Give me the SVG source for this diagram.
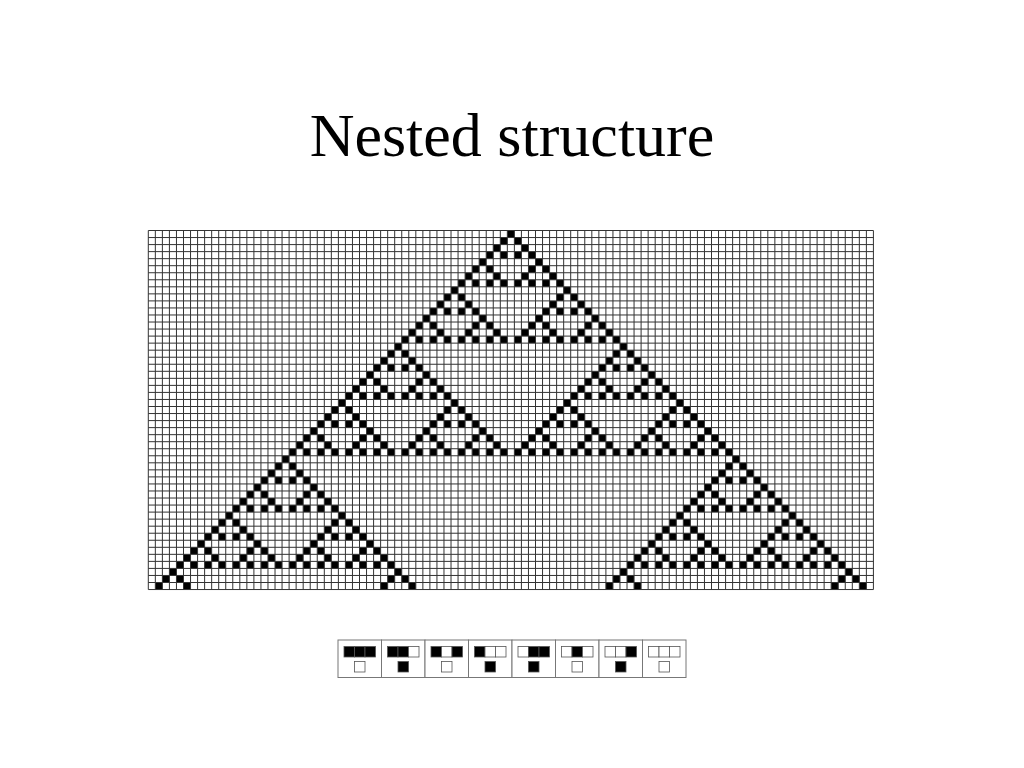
<svg xmlns="http://www.w3.org/2000/svg" xmlns:xlink="http://www.w3.org/1999/xlink" width="1024" height="768" viewBox="0 0 1024 768">
<style>
.title{font-family:"Liberation Serif","Times New Roman",serif;font-size:62px;fill:#000}
.gl{stroke:#333;stroke-width:1;vector-effect:non-scaling-stroke;fill:none}
.rp{fill:#fff;stroke:#777;stroke-width:1}
.on{fill:#000;stroke:#555;stroke-width:0.8}
.off{fill:#fff;stroke:#555;stroke-width:0.8}
</style>
<defs>
<rect id="t0" x="51" y="0" width="1" height="1" fill="#000"/>
<g id="t1"><use href="#t0"/><use href="#t0" transform="translate(-1 1)"/><use href="#t0" transform="translate(1 1)"/></g>
<g id="t2"><use href="#t1"/><use href="#t1" transform="translate(-2 2)"/><use href="#t1" transform="translate(2 2)"/></g>
<g id="t3"><use href="#t2"/><use href="#t2" transform="translate(-4 4)"/><use href="#t2" transform="translate(4 4)"/></g>
<g id="t4"><use href="#t3"/><use href="#t3" transform="translate(-8 8)"/><use href="#t3" transform="translate(8 8)"/></g>
<g id="t5"><use href="#t4"/><use href="#t4" transform="translate(-16 16)"/><use href="#t4" transform="translate(16 16)"/></g>
<g id="p3"><use href="#t1"/><use href="#t0" transform="translate(-2 2)"/><use href="#t0" transform="translate(2 2)"/></g>
<g id="p19"><use href="#t4"/><use href="#p3" transform="translate(-16 16)"/><use href="#p3" transform="translate(16 16)"/></g>
<g id="p51"><use href="#t5"/><use href="#p19" transform="translate(-32 32)"/><use href="#p19" transform="translate(32 32)"/></g>
<line id="v1" x1="0" y1="0" x2="0" y2="51" class="gl"/>
<g id="v2"><use href="#v1"/><use href="#v1" x="1"/></g>
<g id="v4"><use href="#v2"/><use href="#v2" x="2"/></g>
<g id="v8"><use href="#v4"/><use href="#v4" x="4"/></g>
<g id="v16"><use href="#v8"/><use href="#v8" x="8"/></g>
<g id="v32"><use href="#v16"/><use href="#v16" x="16"/></g>
<g id="v64"><use href="#v32"/><use href="#v32" x="32"/></g>
<line id="h1" x1="0" y1="0" x2="103" y2="0" class="gl"/>
<g id="h2"><use href="#h1"/><use href="#h1" y="1"/></g>
<g id="h4"><use href="#h2"/><use href="#h2" y="2"/></g>
<g id="h8"><use href="#h4"/><use href="#h4" y="4"/></g>
<g id="h16"><use href="#h8"/><use href="#h8" y="8"/></g>
<g id="h32"><use href="#h16"/><use href="#h16" y="16"/></g>
</defs>
<rect width="1024" height="768" fill="#fff"/>
<text class="title" x="512" y="156" text-anchor="middle">Nested structure</text>
<g id="automaton" transform="translate(148.3 230.5) scale(7.04)">
<rect x="0" y="0" width="103" height="51" fill="#fff"/>
<use href="#p51"/>
<g id="grid">
<use href="#v64"/><use href="#v32" x="64"/><use href="#v8" x="96"/>
<use href="#h32"/><use href="#h16" y="32"/><use href="#h4" y="48"/>
</g>
</g>
<g id="rules">
<g id="r0"><rect class="rp" x="338" y="640" width="43.5" height="37.5"/><rect class="on" x="344" y="646.5" width="10.5" height="10.5"/><rect class="on" x="354.5" y="646.5" width="10.5" height="10.5"/><rect class="on" x="365" y="646.5" width="10.5" height="10.5"/><rect class="off" x="354.5" y="661.5" width="10.5" height="10.5"/></g>
<g id="r1"><rect class="rp" x="381.5" y="640" width="43.5" height="37.5"/><rect class="on" x="387.5" y="646.5" width="10.5" height="10.5"/><rect class="on" x="398" y="646.5" width="10.5" height="10.5"/><rect class="off" x="408.5" y="646.5" width="10.5" height="10.5"/><rect class="on" x="398" y="661.5" width="10.5" height="10.5"/></g>
<g id="r2"><rect class="rp" x="425" y="640" width="43.5" height="37.5"/><rect class="on" x="431" y="646.5" width="10.5" height="10.5"/><rect class="off" x="441.5" y="646.5" width="10.5" height="10.5"/><rect class="on" x="452" y="646.5" width="10.5" height="10.5"/><rect class="off" x="441.5" y="661.5" width="10.5" height="10.5"/></g>
<g id="r3"><rect class="rp" x="468.5" y="640" width="43.5" height="37.5"/><rect class="on" x="474.5" y="646.5" width="10.5" height="10.5"/><rect class="off" x="485" y="646.5" width="10.5" height="10.5"/><rect class="off" x="495.5" y="646.5" width="10.5" height="10.5"/><rect class="on" x="485" y="661.5" width="10.5" height="10.5"/></g>
<g id="r4"><rect class="rp" x="512" y="640" width="43.5" height="37.5"/><rect class="off" x="518" y="646.5" width="10.5" height="10.5"/><rect class="on" x="528.5" y="646.5" width="10.5" height="10.5"/><rect class="on" x="539" y="646.5" width="10.5" height="10.5"/><rect class="on" x="528.5" y="661.5" width="10.5" height="10.5"/></g>
<g id="r5"><rect class="rp" x="555.5" y="640" width="43.5" height="37.5"/><rect class="off" x="561.5" y="646.5" width="10.5" height="10.5"/><rect class="on" x="572" y="646.5" width="10.5" height="10.5"/><rect class="off" x="582.5" y="646.5" width="10.5" height="10.5"/><rect class="off" x="572" y="661.5" width="10.5" height="10.5"/></g>
<g id="r6"><rect class="rp" x="599" y="640" width="43.5" height="37.5"/><rect class="off" x="605" y="646.5" width="10.5" height="10.5"/><rect class="off" x="615.5" y="646.5" width="10.5" height="10.5"/><rect class="on" x="626" y="646.5" width="10.5" height="10.5"/><rect class="on" x="615.5" y="661.5" width="10.5" height="10.5"/></g>
<g id="r7"><rect class="rp" x="642.5" y="640" width="43.5" height="37.5"/><rect class="off" x="648.5" y="646.5" width="10.5" height="10.5"/><rect class="off" x="659" y="646.5" width="10.5" height="10.5"/><rect class="off" x="669.5" y="646.5" width="10.5" height="10.5"/><rect class="off" x="659" y="661.5" width="10.5" height="10.5"/></g>
</g>
</svg>
